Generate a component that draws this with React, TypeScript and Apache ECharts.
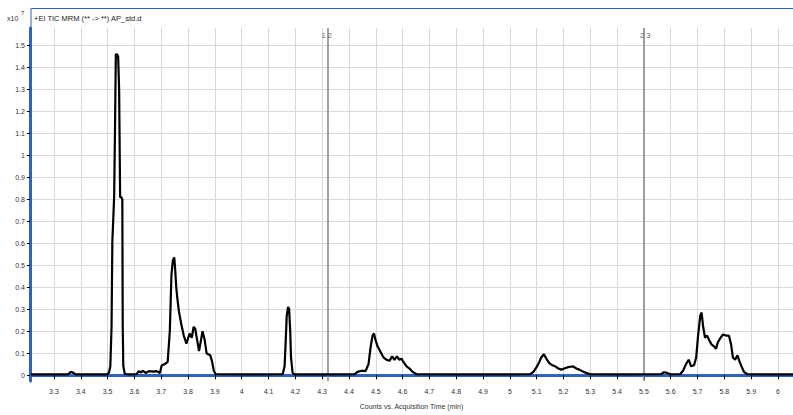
import React, { useEffect, useRef } from "react";
import * as echarts from "echarts";

// TIC trace: acquisition time (min) and abundance (x10^7 counts)
const retentionTimes = [
  3.214, 3.352, 3.363, 3.37, 3.381, 3.497,
  3.5047, 3.5102, 3.5147, 3.5177, 3.5214, 3.5244, 3.5277, 3.5307, 3.5352, 3.5393,
  3.543, 3.5467, 3.5512, 3.5549, 3.5564, 3.5586, 3.5642,
  3.583, 3.609, 3.616, 3.624, 3.631, 3.642, 3.654, 3.669, 3.683, 3.695,
  3.702, 3.713, 3.724, 3.732, 3.738, 3.743, 3.7486, 3.752, 3.756, 3.76, 3.766,
  3.775, 3.784, 3.794, 3.8007, 3.806, 3.814, 3.821, 3.827, 3.831, 3.841, 3.847,
  3.854, 3.862, 3.869, 3.875, 3.883, 3.89, 3.896, 3.903,
  4.03, 4.153, 4.16, 4.164, 4.168, 4.173, 4.177, 4.181, 4.184, 4.19, 4.197,
  4.328, 4.421, 4.432, 4.447, 4.462, 4.473, 4.48, 4.488, 4.4935, 4.499, 4.507,
  4.518, 4.529, 4.54, 4.551, 4.561, 4.57, 4.579, 4.588, 4.596, 4.603, 4.615,
  4.626, 4.637, 4.652,
  4.775, 4.961, 5.076, 5.088, 5.099, 5.11, 5.117, 5.127, 5.136, 5.147, 5.158,
  5.169, 5.181, 5.192, 5.203, 5.214, 5.225, 5.236, 5.248, 5.259, 5.274, 5.289, 5.304,
  5.408, 5.564, 5.575, 5.587, 5.598, 5.635, 5.646, 5.657, 5.667, 5.676, 5.687,
  5.695, 5.702, 5.71, 5.7151, 5.721, 5.728, 5.736, 5.743, 5.752, 5.762, 5.769,
  5.776, 5.786, 5.795, 5.806, 5.817, 5.825, 5.832, 5.84, 5.849, 5.857, 5.864,
  5.873, 5.885, 5.967, 6.056,
];

const abundances = [
  0.003, 0.003, 0.015, 0.012, 0.003, 0.003,
  0.01, 0.04, 0.22, 0.61, 0.72, 0.81, 1.13, 1.46, 1.46, 1.45,
  1.3, 0.81, 0.81, 0.8, 0.22, 0.04, 0.005,
  0.003, 0.005, 0.018, 0.012, 0.02, 0.01, 0.018, 0.016, 0.018, 0.01,
  0.045, 0.05, 0.06, 0.2, 0.455, 0.52, 0.536, 0.48, 0.4, 0.35, 0.29,
  0.23, 0.18, 0.143, 0.17, 0.19, 0.17, 0.22, 0.21, 0.18, 0.11, 0.15,
  0.2, 0.16, 0.1, 0.095, 0.09, 0.06, 0.02, 0.004,
  0.003, 0.004, 0.04, 0.15, 0.27, 0.31, 0.3, 0.2, 0.08, 0.01, 0.003,
  0.003, 0.004, 0.015, 0.02, 0.018, 0.05, 0.12, 0.18, 0.19, 0.16, 0.13,
  0.105, 0.08, 0.07, 0.065, 0.085, 0.07, 0.085, 0.07, 0.075, 0.06, 0.04,
  0.03, 0.015, 0.004,
  0.003, 0.003, 0.004, 0.015, 0.035, 0.06, 0.08, 0.095, 0.075, 0.055, 0.045,
  0.04, 0.03, 0.025, 0.03, 0.035, 0.038, 0.04, 0.03, 0.025, 0.015, 0.008, 0.004,
  0.003, 0.004, 0.013, 0.01, 0.004, 0.004, 0.02, 0.05, 0.07, 0.04, 0.045,
  0.08, 0.18, 0.27, 0.285, 0.22, 0.17, 0.18, 0.16, 0.14, 0.13, 0.12,
  0.15, 0.17, 0.185, 0.18, 0.18, 0.14, 0.08, 0.07, 0.09, 0.06, 0.04,
  0.015, 0.004, 0.003, 0.003,
];

const timeTicks = [
  3.3, 3.4, 3.5, 3.6, 3.7, 3.8, 3.9, 4.0, 4.1, 4.2, 4.3, 4.4, 4.5, 4.6,
  4.7, 4.8, 4.9, 5.0, 5.1, 5.2, 5.3, 5.4, 5.5, 5.6, 5.7, 5.8, 5.9, 6.0,
];
const abundanceTicks = [
  0, 0.1, 0.2, 0.3, 0.4, 0.5, 0.6, 0.7, 0.8, 0.9, 1.0, 1.1, 1.2, 1.3, 1.4, 1.5,
];

// MRM time segment boundaries
const segmentBoundaries = [4.317, 5.505];
const segmentLabels = ["1 2", "2 3"];

const chartTitle = "+EI TIC MRM (** -> **) AP_std.d";
const xAxisTitle = "Counts vs. Acquisition Time (min)";
const scaleBase = "x10";
const scaleExponent = "7";

const AXIS_BLUE = "#2f62c4";
const GRID_GREY = "#d9d9d9";
const FONT = "'Liberation Sans', Arial, sans-serif";

const trimNumber = (v: number) => String(Number(v.toFixed(2)));

export default function App() {
  const ref = useRef<HTMLDivElement>(null);

  useEffect(() => {
    if (!ref.current) return;
    const chart = echarts.init(ref.current, undefined, { renderer: "svg" });

    const seriesData = retentionTimes.map((t, i) => [t, abundances[i]]);

    chart.setOption({
      animation: false,
      backgroundColor: "#ffffff",
      grid: { left: 30, right: 0, top: 28, bottom: 27 },
      xAxis: {
        type: "value",
        min: 3.2106,
        max: 6.056,
        axisLine: { show: true, lineStyle: { color: AXIS_BLUE, width: 3 } },
        axisTick: {
          show: true,
          customValues: timeTicks,
          length: 4,
          lineStyle: { color: "#000000", width: 1 },
        },
        axisLabel: {
          customValues: timeTicks,
          formatter: (v: number) => trimNumber(v),
          fontSize: 7,
          fontFamily: FONT,
          color: "#333333",
          margin: 7,
        },
        splitLine: { show: true, lineStyle: { color: GRID_GREY, width: 1 } },
        name: xAxisTitle,
        nameLocation: "middle",
        nameGap: 22,
        nameTextStyle: { fontSize: 7, fontFamily: FONT, color: "#333333" },
      },
      yAxis: {
        type: "value",
        min: -0.0268,
        max: 1.58,
        axisLine: { show: true, lineStyle: { color: AXIS_BLUE, width: 3 } },
        axisTick: {
          show: true,
          customValues: abundanceTicks,
          length: 3,
          lineStyle: { color: "#000000", width: 1 },
        },
        axisLabel: {
          customValues: abundanceTicks,
          formatter: (v: number) => trimNumber(v),
          fontSize: 7,
          fontFamily: FONT,
          color: "#333333",
          margin: 5,
        },
        splitLine: { show: true, lineStyle: { color: GRID_GREY, width: 1 } },
      },
      series: [
        {
          type: "line",
          data: seriesData,
          showSymbol: false,
          symbol: "none",
          clip: true,
          lineStyle: { color: "#000000", width: 2.2 },
          z: 5,
          markLine: {
            silent: true,
            symbol: "none",
            label: { show: false },
            lineStyle: { color: "#858585", width: 1.5, type: "solid" },
            data: segmentBoundaries.map((t) => ({ xAxis: t })),
          },
        },
      ],
    });

    const segmentTexts = segmentBoundaries.map((t, i) => {
      const px = chart.convertToPixel({ xAxisIndex: 0 }, t) as number;
      return {
        type: "text",
        x: px,
        y: 35,
        style: {
          text: segmentLabels[i],
          fontSize: 7.5,
          fontFamily: FONT,
          fill: "#666666",
          align: "center",
          verticalAlign: "middle",
        },
        z: 10,
      };
    });

    chart.setOption({
      graphic: [
        {
          type: "polyline",
          shape: { points: [[31, 28], [31, 8.5], [793, 8.5]] },
          style: { stroke: AXIS_BLUE, lineWidth: 1, fill: "none" },
          z: 10,
        },
        {
          type: "text",
          x: 7,
          y: 18,
          style: {
            text: scaleBase,
            fontSize: 7,
            fontFamily: FONT,
            fill: "#333333",
            verticalAlign: "middle",
          },
        },
        {
          type: "text",
          x: 21,
          y: 13,
          style: {
            text: scaleExponent,
            fontSize: 6,
            fontFamily: FONT,
            fill: "#333333",
            verticalAlign: "middle",
          },
        },
        {
          type: "text",
          x: 34,
          y: 18,
          style: {
            text: chartTitle,
            fontSize: 7.5,
            fontFamily: FONT,
            fill: "#222222",
            verticalAlign: "middle",
          },
        },
        ...segmentTexts,
      ],
    });

    return () => chart.dispose();
  }, []);

  return (
    <div
      ref={ref}
      style={{ position: "fixed", left: 0, top: 0, width: 793, height: 415 }}
    />
  );
}
